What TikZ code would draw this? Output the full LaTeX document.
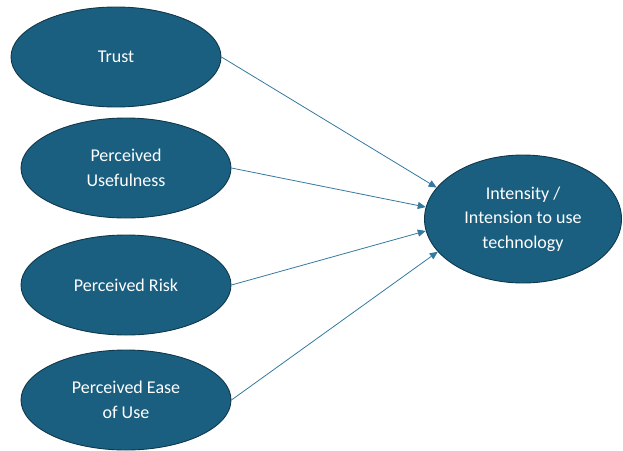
\documentclass[tikz,border=0pt]{standalone}
\usepackage{fontspec}
\setmainfont{Carlito}
\usepackage{xcolor}
\usetikzlibrary{shapes.geometric,arrows.meta}
\definecolor{tealfill}{HTML}{1A5F80}
\definecolor{tealedge}{HTML}{10384C}
\definecolor{linkblue}{HTML}{3479A0}

\begin{document}
\begin{tikzpicture}[x=1pt,y=-1pt,
    factor/.style={ellipse,draw=tealedge,line width=0.9pt,fill=tealfill,
        text=white,align=center,inner sep=0pt,
        minimum width=210pt,minimum height=100pt,font=\fontsize{18}{24.5}\selectfont},
    link/.style={draw=linkblue,line width=0.8pt,-{Triangle[length=8pt,width=7pt]}}]
\useasboundingbox (0,0) rectangle (623,450);
\node[factor] (trust) at (116,57) {Trust};
\node[factor] (useful) at (126,168) {Perceived\\Usefulness};
\node[factor] (risk) at (126,285) {Perceived Risk};
\node[factor] (ease) at (126,400) {Perceived Ease\\of Use};
\node[factor,minimum width=197pt,minimum height=128pt] (intent) at (523,219)
    {Intensity /\\Intension to use\\technology};
\foreach \src/\ang in {trust/160,useful/173,risk/187,ease/201}
    \draw[link] (\src.east) -- (intent.\ang);
\end{tikzpicture}
\end{document}
